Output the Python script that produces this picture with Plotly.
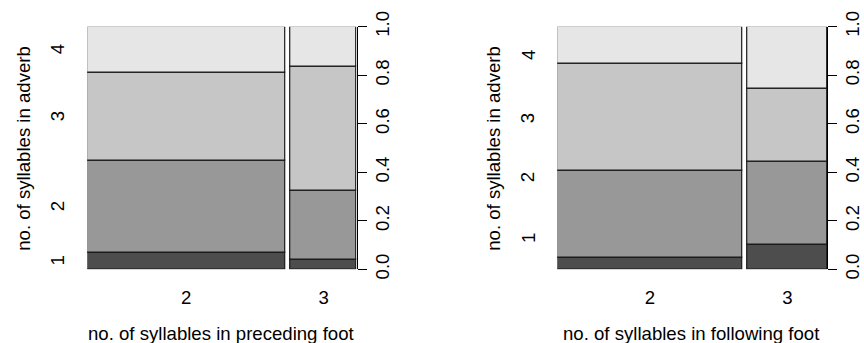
import plotly.graph_objects as go

# Spine plots: share of adverb syllable counts by syllables in the neighbouring foot
foot_levels = ["2", "3"]
adverb_levels = ["1", "2", "3", "4"]

# column widths (relative frequency of each foot category)
preceding_widths = [0.749, 0.251]
following_widths = [0.700, 0.300]

# conditional proportions of adverb syllables (rows: adverb level, cols: foot level)
preceding_props = {
    "1": [0.070, 0.038],
    "2": [0.378, 0.288],
    "3": [0.364, 0.509],
    "4": [0.188, 0.165],
}
following_props = {
    "1": [0.048, 0.101],
    "2": [0.357, 0.344],
    "3": [0.444, 0.301],
    "4": [0.151, 0.254],
}

# positions of the adverb labels on the left axis
preceding_label_pos = [0.035, 0.259, 0.630, 0.906]
following_label_pos = [0.128, 0.379, 0.622, 0.883]

fills = ["#4D4D4D", "#989898", "#C6C6C6", "#E6E6E6"]
gap = 0.02
font = "Liberation Sans, Arial, Helvetica, sans-serif"
fsize = 18.6

panels = [
    dict(widths=preceding_widths, props=preceding_props, labpos=preceding_label_pos,
         xtitle="no. of syllables in preceding foot", dom=[87.3 / 864, 356.7 / 864]),
    dict(widths=following_widths, props=following_props, labpos=following_label_pos,
         xtitle="no. of syllables in following foot", dom=[557.3 / 864, 827.0 / 864]),
]

fig = go.Figure()
ydom = [(343 - 269.3) / 343, (343 - 26.7) / 343]
annotations = []

for i, p in enumerate(panels):
    xa = "x" if i == 0 else "x2"
    ya = "y" if i == 0 else "y2"
    w = p["widths"]
    lefts = [0.0, w[0] + gap]
    centers = [lefts[k] + w[k] / 2 for k in range(2)]
    base = [0.0, 0.0]
    for j, lev in enumerate(adverb_levels):
        vals = p["props"][lev]
        fig.add_trace(go.Bar(
            x=centers, y=vals, base=list(base), width=w,
            marker=dict(color=fills[j], line=dict(color="#1a1a1a", width=1.2)),
            xaxis=xa, yaxis=ya, showlegend=False, hoverinfo="skip",
        ))
        base = [base[k] + vals[k] for k in range(2)]

    xkey = "xaxis" if i == 0 else "xaxis2"
    ykey = "yaxis" if i == 0 else "yaxis2"
    fig.update_layout(**{
        xkey: dict(domain=p["dom"], range=[0, 1 + gap], anchor=ya,
                   tickvals=centers, ticktext=foot_levels, ticks="outside",
                   ticklen=11, tickcolor="rgba(0,0,0,0)", showgrid=False,
                   zeroline=False, showline=False, automargin=False,
                   tickfont=dict(family=font, size=fsize, color="#000")),
        ykey: dict(domain=ydom, range=[0, 1], anchor=xa, side="right",
                   tickvals=[0, 0.2, 0.4, 0.6, 0.8, 1.0], tickformat=".1f",
                   ticks="outside", ticklen=9, tickwidth=1.2, tickcolor="#000",
                   showline=True, linecolor="#000", linewidth=1.2,
                   tickangle=-90, showgrid=False, zeroline=False, automargin=False,
                   tickfont=dict(family=font, size=fsize, color="#000")),
    })

    x0 = p["dom"][0] * 864
    x1 = p["dom"][1] * 864
    # adverb level labels on the left
    for lev, pos in zip(adverb_levels, p["labpos"]):
        annotations.append(dict(
            x=(x0 - 29.5) / 864, y=pos, xref="paper", yref=ya, text=lev,
            textangle=-90, showarrow=False, xanchor="center", yanchor="middle",
            font=dict(family=font, size=fsize, color="#000")))
    annotations.append(dict(
        x=(x0 - 63.5) / 864, y=0.5, xref="paper", yref=ya + " domain",
        text="no. of syllables in adverb", textangle=-90, showarrow=False,
        xanchor="center", yanchor="middle",
        font=dict(family=font, size=fsize, color="#000")))
    annotations.append(dict(
        x=(x0 + x1) / 2 / 864 - 0.5 / 864, y=(343 - 333) / 343, xref="paper", yref="paper",
        text=p["xtitle"], showarrow=False, xanchor="center", yanchor="middle",
        font=dict(family=font, size=fsize, color="#000")))

fig.update_layout(
    width=864, height=343, margin=dict(l=0, r=0, t=0, b=0),
    paper_bgcolor="white", plot_bgcolor="white",
    barmode="overlay", bargap=0, annotations=annotations,
)

fig.write_html("out.html")
